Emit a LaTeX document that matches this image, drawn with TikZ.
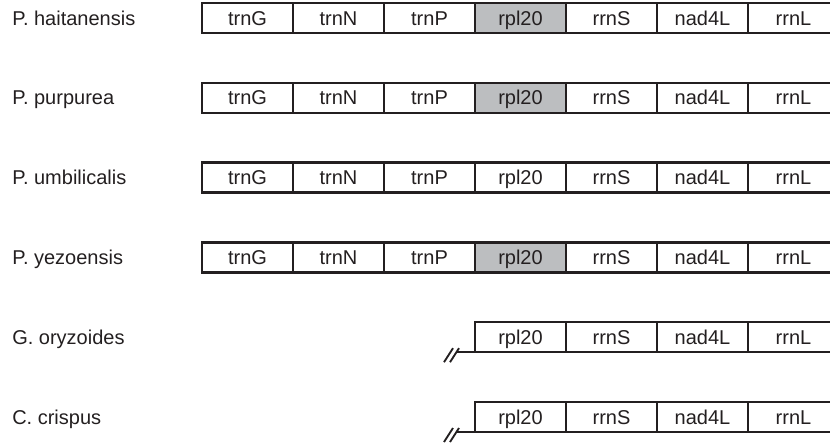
\documentclass[tikz,border=0pt]{standalone}
\usepackage{fontspec}
\setmainfont{Liberation Sans}
\usetikzlibrary{positioning}
\definecolor{ink}{HTML}{231F20}
\definecolor{genegray}{HTML}{BCBEC0}
\tikzset{
  gene/.style={draw=ink, line width=1.7pt, outer sep=0pt, inner sep=0pt,
    minimum width=68.25pt, minimum height=22.5pt, text height=10.7pt, text depth=0pt,
    font=\fontsize{15}{18}\selectfont, text=ink},
  genegrey/.style={gene, fill=genegray},
  species/.style={anchor=west, inner sep=0pt, text height=10.7pt, text depth=0pt,
    font=\fontsize{15}{18}\selectfont, text=ink},
  backbone/.style={line width=1.7pt, ink},
  breakmark/.style={line width=1.4pt, ink},
}

\begin{document}
\begin{tikzpicture}[x=0.75pt,y=-0.75pt]
\useasboundingbox (0,0) rectangle (830,442);
\clip (0,0) rectangle (830,442);
% P. haitanensis
\node[species] (ha) at (12,18) {P. haitanensis};
\node[gene, anchor=west] (ha1) at (202,18) {trnG};
\node[gene, right=0pt of ha1] (ha2) {trnN};
\node[gene, right=0pt of ha2] (ha3) {trnP};
\node[genegrey, right=0pt of ha3] (ha4) {rpl20};
\node[gene, right=0pt of ha4] (ha5) {rrnS};
\node[gene, right=0pt of ha5] (ha6) {nad4L};
\node[gene, right=0pt of ha6] (ha7) {rrnL};
% P. purpurea
\node[species] (pu) at (12,97.8) {P. purpurea};
\node[gene, anchor=west] (pu1) at (202,97.8) {trnG};
\node[gene, right=0pt of pu1] (pu2) {trnN};
\node[gene, right=0pt of pu2] (pu3) {trnP};
\node[genegrey, right=0pt of pu3] (pu4) {rpl20};
\node[gene, right=0pt of pu4] (pu5) {rrnS};
\node[gene, right=0pt of pu5] (pu6) {nad4L};
\node[gene, right=0pt of pu6] (pu7) {rrnL};
% P. umbilicalis
\node[species] (um) at (12,177.6) {P. umbilicalis};
\node[gene, anchor=west] (um1) at (202,177.6) {trnG};
\node[gene, right=0pt of um1] (um2) {trnN};
\node[gene, right=0pt of um2] (um3) {trnP};
\node[gene, right=0pt of um3] (um4) {rpl20};
\node[gene, right=0pt of um4] (um5) {rrnS};
\node[gene, right=0pt of um5] (um6) {nad4L};
\node[gene, right=0pt of um6] (um7) {rrnL};
% P. yezoensis
\node[species] (ye) at (12,257.4) {P. yezoensis};
\node[gene, anchor=west] (ye1) at (202,257.4) {trnG};
\node[gene, right=0pt of ye1] (ye2) {trnN};
\node[gene, right=0pt of ye2] (ye3) {trnP};
\node[genegrey, right=0pt of ye3] (ye4) {rpl20};
\node[gene, right=0pt of ye4] (ye5) {rrnS};
\node[gene, right=0pt of ye5] (ye6) {nad4L};
\node[gene, right=0pt of ye6] (ye7) {rrnL};
% G. oryzoides
\node[species] (gr) at (12,337.2) {G. oryzoides};
\node[gene, anchor=west] (gr4) at (475,337.2) {rpl20};
\node[gene, right=0pt of gr4] (gr5) {rrnS};
\node[gene, right=0pt of gr5] (gr6) {nad4L};
\node[gene, right=0pt of gr6] (gr7) {rrnL};
\coordinate (gr-cut) at (456,352.2);
\draw[backbone] (gr-cut) -- (gr4.south west);
\draw[breakmark] ([shift={(-12,10)}]gr-cut) -- ++(9,-14);
\draw[breakmark] ([shift={(-6,10)}]gr-cut) -- ++(9,-14);
% C. crispus
\node[species] (cr) at (12,417) {C. crispus};
\node[gene, anchor=west] (cr4) at (475,417) {rpl20};
\node[gene, right=0pt of cr4] (cr5) {rrnS};
\node[gene, right=0pt of cr5] (cr6) {nad4L};
\node[gene, right=0pt of cr6] (cr7) {rrnL};
\coordinate (cr-cut) at (456,432);
\draw[backbone] (cr-cut) -- (cr4.south west);
\draw[breakmark] ([shift={(-12,10)}]cr-cut) -- ++(9,-14);
\draw[breakmark] ([shift={(-6,10)}]cr-cut) -- ++(9,-14);
\end{tikzpicture}
\end{document}
